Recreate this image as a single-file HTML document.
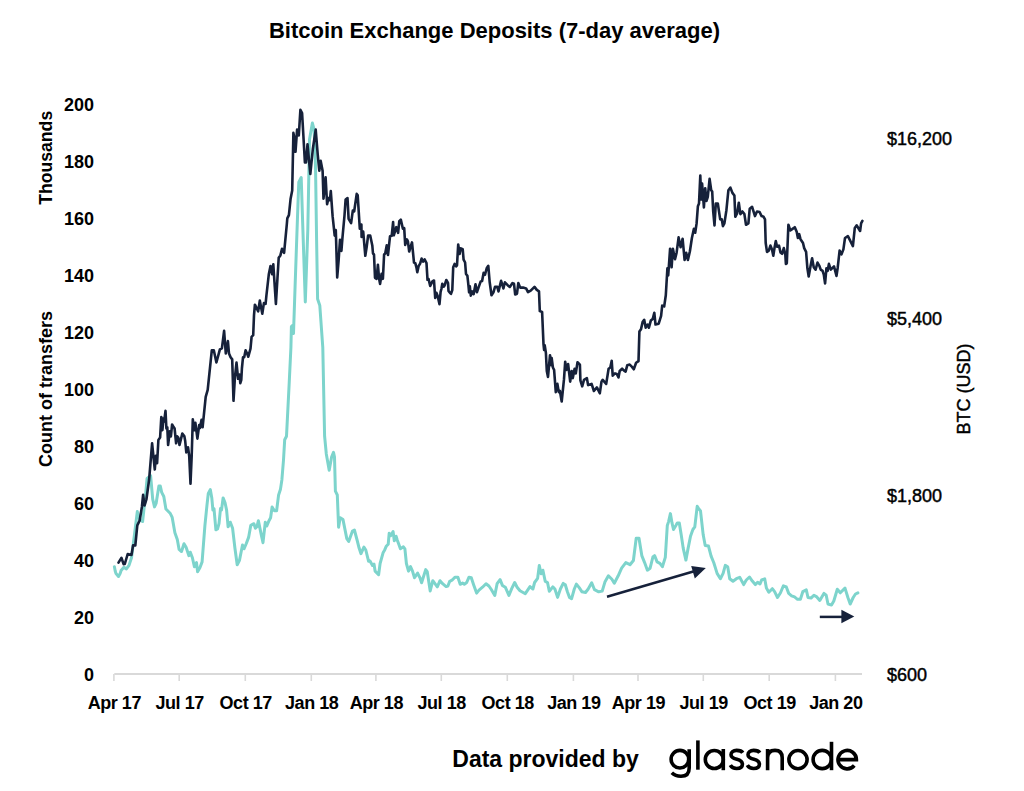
<!DOCTYPE html>
<html><head><meta charset="utf-8"><style>
html,body{margin:0;padding:0;background:#fff;}
svg{display:block;}
text{font-family:"Liberation Sans",sans-serif;fill:#000;}
.lb{font-size:18px;font-weight:bold;}
.rl{font-size:18px;stroke:#000;stroke-width:0.45px;}
</style></head><body>
<svg width="1024" height="791" viewBox="0 0 1024 791">
<rect width="1024" height="791" fill="#fff"/>
<text x="494.5" y="37.7" text-anchor="middle" style="font-size:22px;font-weight:bold">Bitcoin Exchange Deposits (7-day average)</text>
<text transform="translate(51.5,157.8) rotate(-90)" text-anchor="middle" class="lb" textLength="94" lengthAdjust="spacingAndGlyphs">Thousands</text>
<text transform="translate(51.5,389) rotate(-90)" text-anchor="middle" class="lb">Count of transfers</text>
<text transform="translate(970,389) rotate(-90)" text-anchor="middle" class="rl">BTC (USD)</text>
<text x="94" y="111.0" text-anchor="end" class="lb">200</text>
<text x="94" y="168.0" text-anchor="end" class="lb">180</text>
<text x="94" y="225.0" text-anchor="end" class="lb">160</text>
<text x="94" y="282.0" text-anchor="end" class="lb">140</text>
<text x="94" y="339.0" text-anchor="end" class="lb">120</text>
<text x="94" y="396.0" text-anchor="end" class="lb">100</text>
<text x="94" y="453.0" text-anchor="end" class="lb">80</text>
<text x="94" y="510.0" text-anchor="end" class="lb">60</text>
<text x="94" y="567.0" text-anchor="end" class="lb">40</text>
<text x="94" y="624.0" text-anchor="end" class="lb">20</text>
<text x="94" y="681.0" text-anchor="end" class="lb">0</text>

<text x="114.3" y="709" text-anchor="middle" class="lb" letter-spacing="-0.45">Apr 17</text>
<text x="179.6" y="709" text-anchor="middle" class="lb" letter-spacing="-0.45">Jul 17</text>
<text x="245.7" y="709" text-anchor="middle" class="lb" letter-spacing="-0.45">Oct 17</text>
<text x="311.7" y="709" text-anchor="middle" class="lb" letter-spacing="-0.45">Jan 18</text>
<text x="376.3" y="709" text-anchor="middle" class="lb" letter-spacing="-0.45">Apr 18</text>
<text x="441.7" y="709" text-anchor="middle" class="lb" letter-spacing="-0.45">Jul 18</text>
<text x="507.7" y="709" text-anchor="middle" class="lb" letter-spacing="-0.45">Oct 18</text>
<text x="573.8" y="709" text-anchor="middle" class="lb" letter-spacing="-0.45">Jan 19</text>
<text x="638.4" y="709" text-anchor="middle" class="lb" letter-spacing="-0.45">Apr 19</text>
<text x="703.7" y="709" text-anchor="middle" class="lb" letter-spacing="-0.45">Jul 19</text>
<text x="769.6" y="709" text-anchor="middle" class="lb" letter-spacing="-0.45">Oct 19</text>
<text x="835.8" y="709" text-anchor="middle" class="lb" letter-spacing="-0.45">Jan 20</text>

<text x="887" y="144.5" class="rl">$16,200</text>
<text x="887" y="324.5" class="rl">$5,400</text>
<text x="887" y="501.5" class="rl">$1,800</text>
<text x="887" y="680.5" class="rl">$600</text>

<g stroke="#d9d9d9" stroke-width="2"><line x1="114.3" y1="674" x2="862" y2="674"/><line x1="113.9" y1="674" x2="113.9" y2="681" stroke-width="1.6"/><line x1="179.2" y1="674" x2="179.2" y2="681" stroke-width="1.6"/><line x1="245.3" y1="674" x2="245.3" y2="681" stroke-width="1.6"/><line x1="311.3" y1="674" x2="311.3" y2="681" stroke-width="1.6"/><line x1="375.9" y1="674" x2="375.9" y2="681" stroke-width="1.6"/><line x1="441.3" y1="674" x2="441.3" y2="681" stroke-width="1.6"/><line x1="507.3" y1="674" x2="507.3" y2="681" stroke-width="1.6"/><line x1="573.4" y1="674" x2="573.4" y2="681" stroke-width="1.6"/><line x1="638.0" y1="674" x2="638.0" y2="681" stroke-width="1.6"/><line x1="703.3" y1="674" x2="703.3" y2="681" stroke-width="1.6"/><line x1="769.2" y1="674" x2="769.2" y2="681" stroke-width="1.6"/><line x1="835.4" y1="674" x2="835.4" y2="681" stroke-width="1.6"/></g>
<path d="M114.4 566.7 L115.2 571.0 L116.0 573.6 L118.5 576.5 L120.1 573.6 L121.1 570.5 L123.9 567.3 L126.4 568.9 L129.0 565.4 L131.5 557.8 L134.3 535.9 L137.3 511.6 L139.6 519.2 L142.6 521.5 L145.7 493.4 L147.1 478.4 L150.6 475.6 L152.7 499.2 L154.5 506.9 L156.1 503.4 L158.9 486.0 L160.3 486.0 L161.7 492.3 L163.8 496.5 L165.9 509.0 L170.1 513.2 L172.2 517.4 L174.9 532.7 L177.3 539.6 L179.1 549.4 L181.5 551.5 L184.0 543.8 L186.1 547.3 L187.5 551.5 L188.9 555.7 L190.3 552.2 L192.4 557.7 L194.4 566.8 L196.5 562.6 L197.6 571.7 L200.0 567.5 L202.1 561.9 L204.9 525.7 L207.0 504.8 L208.3 493.4 L210.3 489.6 L211.8 497.9 L212.9 510.1 L214.0 508.6 L215.9 529.8 L217.5 529.0 L219.0 523.7 L220.5 508.6 L221.5 510.1 L223.1 497.9 L225.0 502.5 L226.6 510.1 L228.1 526.8 L230.3 522.2 L232.6 528.3 L234.9 548.0 L237.2 564.7 L239.5 560.2 L242.5 545.0 L244.0 548.8 L246.3 543.5 L248.6 537.4 L250.8 525.3 L253.9 523.7 L255.4 528.3 L256.9 526.8 L258.4 520.7 L261.5 535.9 L263.0 542.7 L265.3 522.2 L266.8 526.0 L269.0 520.7 L270.6 517.7 L272.1 507.0 L274.4 510.8 L276.6 510.8 L278.6 494.9 L280.4 489.6 L281.9 479.7 L283.5 460.0 L284.7 439.7 L286.5 436.2 L289.2 383.1 L290.9 347.7 L291.4 326.6 L292.7 325.3 L293.5 333.5 L295.2 283.0 L298.1 200.0 L298.8 182.2 L301.2 177.5 L302.9 229.9 L305.3 302.0 L307.8 229.9 L309.5 139.5 L312.4 123.0 L314.1 129.6 L315.5 165.0 L316.6 240.0 L317.6 299.0 L319.8 305.5 L322.8 347.7 L324.6 436.2 L326.3 453.9 L329.2 470.3 L331.6 457.1 L333.5 452.3 L334.5 457.1 L335.4 491.2 L337.3 495.0 L338.6 527.2 L340.2 517.7 L343.0 519.6 L346.8 538.6 L348.7 541.4 L352.5 531.0 L354.4 530.0 L357.2 540.5 L359.1 548.1 L361.0 553.7 L363.9 547.1 L365.8 550.0 L368.6 561.3 L370.0 561.0 L372.5 565.5 L374.0 564.0 L375.1 571.1 L378.6 574.7 L380.1 563.5 L383.2 552.4 L384.7 549.9 L386.2 546.3 L388.2 544.3 L389.2 533.2 L390.7 535.7 L393.1 531.6 L394.3 540.7 L396.1 536.2 L397.3 540.2 L398.8 544.3 L400.4 548.8 L403.4 546.8 L404.9 548.8 L406.4 563.5 L408.5 571.1 L410.5 566.6 L412.5 571.1 L414.5 577.7 L417.6 573.1 L420.1 578.2 L421.6 582.8 L425.7 569.6 L427.2 571.6 L430.2 590.9 L432.8 580.7 L437.3 586.8 L440.0 580.7 L442.6 583.7 L446.1 586.6 L447.9 586.0 L449.7 581.3 L452.0 580.2 L454.9 577.2 L457.9 577.2 L460.2 584.3 L462.5 583.1 L464.3 584.3 L466.7 582.5 L469.0 577.2 L471.3 577.8 L473.7 584.9 L476.6 593.1 L479.0 590.1 L482.5 587.2 L486.0 583.7 L488.9 586.0 L491.3 589.5 L494.8 595.4 L497.1 583.7 L500.1 579.6 L502.4 585.4 L505.3 587.2 L508.9 595.4 L511.8 588.4 L514.7 582.5 L517.1 587.2 L520.0 590.7 L525.3 593.7 L530.0 586.6 L532.9 589.0 L534.6 582.5 L537.6 578.4 L539.3 565.5 L541.1 573.7 L542.9 570.2 L545.2 581.3 L547.5 582.5 L549.3 591.3 L552.8 586.9 L554.9 589.0 L557.6 597.4 L560.4 589.0 L563.2 583.4 L565.3 584.8 L567.4 591.8 L569.5 597.4 L571.6 598.7 L574.3 589.0 L576.4 584.1 L579.2 587.6 L582.0 591.8 L585.5 592.5 L588.2 589.0 L591.7 582.8 L594.5 589.7 L598.7 591.8 L602.2 591.1 L604.9 582.1 L608.4 575.8 L611.9 579.3 L614.3 583.2 L618.2 575.8 L621.6 568.2 L625.8 562.6 L630.0 564.7 L633.4 560.5 L636.2 538.2 L639.0 538.2 L641.8 555.6 L644.6 562.6 L647.4 570.2 L650.1 568.2 L652.9 557.0 L654.6 555.6 L657.1 561.9 L659.9 563.3 L662.4 566.7 L665.3 557.4 L667.3 525.5 L668.6 521.6 L670.4 513.6 L672.0 522.9 L673.5 529.5 L675.9 525.5 L677.3 522.9 L679.3 522.9 L681.2 534.8 L683.2 548.1 L685.9 560.1 L687.9 549.4 L690.5 536.2 L692.9 529.5 L694.8 526.9 L697.2 506.3 L698.5 508.3 L700.5 510.9 L703.2 534.8 L705.2 545.5 L708.5 546.1 L711.1 556.1 L713.8 562.7 L717.1 573.4 L720.4 578.7 L723.1 573.4 L725.3 565.4 L727.7 566.7 L729.7 578.7 L733.0 581.3 L736.4 578.7 L739.7 577.3 L743.7 584.6 L746.3 580.0 L749.5 577.0 L752.3 581.1 L755.3 584.6 L757.6 582.3 L760.0 584.0 L761.7 579.9 L764.7 578.8 L766.4 588.1 L768.8 592.2 L772.3 588.7 L774.6 591.7 L777.5 597.5 L780.5 592.8 L783.4 585.8 L786.3 587.0 L788.7 593.4 L791.6 595.8 L794.5 596.9 L797.5 599.3 L800.4 599.3 L802.8 591.7 L806.3 589.9 L808.0 597.5 L811.0 598.1 L813.9 595.2 L816.8 596.9 L819.8 600.4 L823.9 593.4 L826.2 595.2 L828.0 604.0 L831.5 605.1 L833.8 601.0 L837.3 589.3 L840.3 592.8 L845.0 588.1 L847.9 597.5 L850.2 604.0 L853.2 597.5 L855.5 594.0 L857.9 592.8" fill="none" stroke="#7dd4cc" stroke-width="3" stroke-linejoin="round" stroke-linecap="round"/>
<path d="M118.5 562.6 L121.4 557.8 L123.6 564.1 L124.8 564.0 L127.7 554.0 L131.5 555.0 L133.1 545.2 L135.3 545.5 L137.3 525.3 L139.6 520.7 L141.9 507.0 L143.1 494.9 L144.6 505.5 L146.4 499.5 L149.1 479.8 L152.1 443.4 L154.8 469.5 L155.9 455.8 L157.1 463.2 L158.4 439.9 L160.1 437.6 L161.3 417.1 L162.4 430.2 L163.5 418.2 L164.1 421.6 L165.5 410.8 L166.4 428.5 L167.3 427.3 L168.1 445.0 L169.8 431.3 L170.9 436.4 L172.1 424.5 L173.8 427.3 L174.6 428.5 L176.1 443.3 L177.2 436.4 L178.3 437.6 L179.5 445.0 L182.3 433.6 L184.4 436.4 L185.2 441.0 L186.3 452.4 L188.0 447.3 L189.2 455.8 L190.5 483.7 L191.7 455.8 L192.8 419.4 L194.3 430.2 L195.4 422.8 L197.4 438.7 L199.2 425.0 L200.0 427.9 L201.5 419.9 L202.6 427.3 L205.7 396.8 L207.7 389.8 L211.8 350.3 L213.8 350.3 L216.4 362.5 L219.9 349.3 L221.9 348.3 L224.1 330.9 L225.8 353.5 L227.9 341.1 L229.0 353.5 L230.6 357.3 L232.2 359.4 L233.5 400.8 L234.9 377.7 L236.5 362.6 L238.1 378.8 L239.5 374.5 L240.3 383.1 L241.3 379.8 L241.9 368.5 L243.0 357.3 L244.2 357.3 L245.6 350.3 L247.3 354.0 L248.3 356.7 L250.5 348.7 L251.6 336.8 L253.2 335.2 L254.0 315.4 L254.9 304.7 L258.2 311.3 L259.8 300.6 L262.3 313.8 L263.9 303.1 L265.6 303.9 L266.4 295.7 L268.8 274.3 L270.5 266.1 L272.1 274.3 L273.3 264.4 L275.9 303.9 L278.7 257.8 L280.4 255.4 L282.0 248.8 L284.1 252.9 L286.9 223.3 L287.3 218.4 L288.9 215.1 L290.6 198.7 L292.2 190.5 L293.4 132.9 L294.7 139.5 L295.5 151.8 L297.1 129.6 L298.8 135.4 L300.4 109.9 L302.1 113.2 L304.9 162.5 L306.0 162.5 L307.5 144.4 L310.3 174.0 L312.8 149.3 L315.7 129.6 L317.7 154.3 L319.3 170.7 L320.7 160.9 L322.6 170.7 L323.5 198.7 L325.6 177.3 L327.1 204.3 L328.5 198.1 L329.9 200.2 L330.8 191.1 L332.6 216.2 L334.7 235.6 L335.8 230.1 L337.2 277.4 L338.6 260.7 L340.0 239.8 L341.4 250.9 L342.4 238.4 L344.5 215.5 L345.6 199.5 L347.5 198.1 L348.6 218.9 L351.1 223.1 L352.8 210.6 L354.2 211.3 L356.7 193.9 L357.7 195.3 L359.8 228.7 L361.4 224.5 L361.6 237.0 L363.2 231.5 L365.3 255.8 L366.7 246.8 L368.1 235.6 L370.2 235.6 L372.3 245.4 L373.0 253.5 L374.0 254.5 L375.0 277.8 L376.6 278.8 L377.9 264.7 L379.1 278.8 L380.1 283.9 L381.6 273.8 L382.9 278.8 L384.1 254.5 L385.2 253.5 L386.7 245.4 L388.0 255.0 L390.0 236.3 L391.7 235.8 L393.1 222.1 L393.8 235.3 L396.3 227.2 L398.1 232.8 L399.3 221.1 L400.8 219.6 L402.9 228.7 L404.2 228.2 L405.2 244.9 L406.9 239.4 L407.9 241.4 L409.2 251.5 L412.0 242.4 L414.0 262.6 L415.3 263.1 L416.5 267.7 L417.3 272.2 L418.6 266.2 L420.1 263.6 L421.6 258.6 L423.1 261.6 L424.6 259.4 L426.5 263.1 L427.5 279.8 L428.5 278.8 L430.2 285.9 L432.4 281.4 L434.0 280.5 L435.2 298.0 L436.4 292.8 L437.6 295.7 L439.5 304.2 L440.6 291.9 L441.4 289.0 L442.3 283.8 L443.7 286.7 L444.7 285.2 L446.3 280.0 L448.0 282.9 L448.5 290.9 L449.9 292.8 L451.0 293.8 L452.3 290.0 L453.2 267.2 L454.6 263.9 L456.1 266.3 L457.0 265.3 L458.2 244.5 L459.6 254.0 L460.8 248.3 L462.7 249.2 L463.6 259.6 L465.1 262.5 L466.0 273.9 L467.4 275.8 L468.4 285.2 L469.1 292.3 L469.8 286.2 L470.8 295.7 L472.2 291.4 L473.6 294.2 L475.5 284.3 L476.9 292.3 L478.5 287.6 L480.7 281.4 L482.1 281.0 L483.6 272.9 L485.0 274.8 L486.7 268.2 L488.3 265.8 L489.7 282.3 L491.5 295.2 L493.5 292.2 L495.0 286.9 L497.3 286.9 L498.5 291.4 L501.1 280.8 L503.4 288.4 L504.9 282.3 L507.9 285.4 L509.8 286.9 L512.5 283.1 L514.0 283.8 L515.2 294.5 L517.0 293.7 L518.3 283.1 L520.1 287.6 L523.1 287.6 L526.1 288.4 L528.0 292.2 L530.7 290.7 L534.5 286.9 L536.8 289.9 L539.0 291.4 L539.8 311.1 L542.1 311.9 L543.5 344.1 L544.1 349.9 L544.7 345.2 L545.9 352.9 L546.8 371.0 L548.0 376.9 L550.0 355.2 L551.1 365.2 L551.7 358.1 L552.9 367.5 L554.1 369.9 L555.8 392.1 L557.4 383.9 L558.8 392.1 L559.9 391.0 L561.7 401.5 L564.0 379.2 L565.2 361.7 L566.4 369.9 L568.1 364.0 L570.2 381.6 L571.7 371.0 L572.8 378.1 L574.6 368.7 L575.8 373.4 L577.5 362.2 L579.9 364.6 L580.4 380.4 L582.2 386.3 L584.0 379.8 L586.9 378.1 L588.1 385.1 L591.6 383.9 L593.9 391.0 L596.9 387.4 L599.8 393.3 L601.5 381.6 L602.7 379.8 L606.2 383.9 L608.6 368.7 L610.3 367.5 L611.7 360.7 L612.7 375.7 L615.0 373.4 L616.8 374.0 L618.5 377.5 L619.7 371.0 L622.1 368.7 L623.8 370.4 L625.6 371.6 L627.3 365.2 L629.7 364.6 L632.0 366.9 L633.8 369.3 L636.1 362.8 L638.5 361.1 L639.4 331.6 L641.0 329.3 L642.6 322.1 L644.2 319.8 L645.7 327.7 L647.6 324.5 L648.9 327.7 L650.8 320.6 L652.7 319.0 L654.3 312.7 L655.5 324.5 L658.7 323.7 L661.1 315.8 L662.2 305.6 L664.2 306.4 L665.8 295.3 L667.4 268.4 L668.2 275.5 L670.1 248.7 L671.6 267.3 L672.9 248.7 L675.0 259.3 L676.6 252.7 L678.6 237.4 L680.6 247.3 L682.6 238.7 L684.6 260.0 L686.2 252.7 L687.9 260.0 L689.9 251.3 L691.9 238.0 L693.9 228.7 L695.2 232.7 L696.6 223.4 L697.9 206.2 L699.0 203.5 L700.3 175.6 L701.2 199.5 L702.1 183.6 L703.9 207.5 L705.2 188.2 L706.5 200.9 L707.8 196.9 L709.6 178.9 L711.2 190.2 L712.2 191.6 L713.2 211.5 L714.5 225.4 L715.8 203.5 L717.8 203.5 L720.2 219.4 L721.8 219.4 L722.9 226.1 L724.4 223.4 L726.4 210.2 L728.4 190.2 L730.4 187.6 L732.4 192.9 L734.4 195.5 L735.3 216.8 L737.1 213.5 L738.8 202.8 L740.4 214.1 L742.4 211.5 L744.4 214.1 L746.0 224.8 L748.4 223.4 L749.7 208.8 L752.1 206.8 L755.0 216.1 L757.0 211.5 L759.6 212.1 L761.6 216.1 L763.6 216.8 L765.0 219.4 L765.7 243.0 L767.0 251.9 L768.8 250.6 L770.4 245.6 L772.0 249.4 L773.3 255.7 L774.5 248.1 L775.8 241.1 L777.1 246.8 L779.0 245.6 L780.5 252.5 L782.1 253.8 L783.8 248.1 L785.3 254.4 L785.9 263.9 L786.8 263.3 L788.4 224.7 L790.3 230.4 L792.2 229.1 L794.8 227.2 L796.7 231.7 L797.9 238.0 L799.2 234.2 L800.5 239.2 L803.0 243.0 L804.2 248.1 L806.1 251.9 L807.4 268.3 L808.7 276.5 L810.6 265.8 L812.1 258.2 L813.7 267.1 L815.6 269.6 L817.5 262.6 L819.4 265.8 L820.7 269.6 L822.6 270.9 L823.8 274.6 L825.1 283.5 L826.4 268.3 L827.6 270.9 L828.9 263.9 L830.8 269.6 L834.0 266.4 L836.5 275.9 L837.7 267.7 L839.6 250.6 L841.5 254.4 L843.4 249.4 L845.0 238.0 L847.9 236.1 L849.8 239.9 L852.9 246.2 L854.8 227.9 L856.7 225.3 L858.6 228.5 L860.1 231.0 L861.1 223.4 L862.4 220.9" fill="none" stroke="#16213a" stroke-width="2.6" stroke-linejoin="round" stroke-linecap="round"/>
<g stroke="#16213a" stroke-width="2.5" fill="#16213a">
<line x1="607" y1="596.7" x2="695" y2="571"/>
<polygon points="705.8,568 691.2,566 694.8,578.4" stroke="none"/>
<line x1="819.8" y1="616.9" x2="843" y2="616.9"/>
<polygon points="854.3,616.6 841.4,609.8 841.4,623.3" stroke="none"/>
</g>
<text x="545.6" y="766.5" text-anchor="middle" style="font-size:23px;font-weight:bold">Data provided by</text>
<g fill="none" stroke="#000" stroke-width="3.6">
<circle cx="679.9" cy="759.2" r="8.8"/>
<path d="M689.2 749.3 V768 C689.2 773.5 686 776.3 681 776.3 C677 776.3 674 775 671.8 772.8"/>
<path d="M697.9 740.4 V769.7"/>
<circle cx="714.3" cy="759.5" r="9"/>
<path d="M723.3 749 V770.2"/>
<path id="s1" d="M742.8 752.8 C741.6 750.8 739.3 750.4 736.6 750.4 C733.2 750.4 731 752.2 731 754.7 C731 757.6 733.6 758.4 736.9 759.2 C740.4 760.1 742.4 761.4 742.4 764.3 C742.4 767 740.1 768.5 736.6 768.5 C733.7 768.5 731.5 767.2 730.3 765.1"/>
<use href="#s1" x="17"/>
<path d="M767.6 749 V770.2 M767.6 757.8 C767.6 752.6 770.8 750.4 775 750.4 C779.2 750.4 782.2 752.6 782.2 757.8 V770.2"/>
<circle cx="798" cy="759.6" r="9.1"/>
<circle cx="822.2" cy="759.5" r="9.1"/>
<path d="M831.5 741.8 V770.2"/>
<path d="M838.2 759.6 H856.4 A9.2 9.2 0 1 0 854.3 765.5"/>
</g>
</svg>
</body></html>
